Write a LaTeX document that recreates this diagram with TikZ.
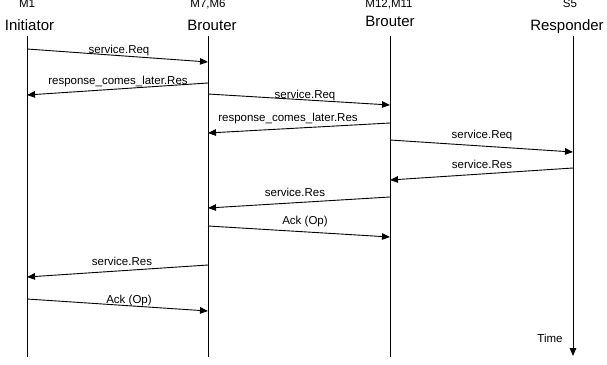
\documentclass[tikz,border=0pt]{standalone}
\usepackage{fontspec}
\setmainfont{Liberation Sans}
\usetikzlibrary{arrows.meta}
\begin{document}
\begin{tikzpicture}[x=1pt,y=-1pt,
  life/.style={line width=0.9pt},
  msg/.style={line width=0.9pt,-{Triangle[length=8pt,width=6.5pt]}},
  lbl/.style={font=\fontsize{11.5}{13}\selectfont,anchor=base,inner sep=0pt},
  head/.style={font=\fontsize{15}{18}\selectfont,anchor=base,inner sep=0pt},
  mlab/.style={font=\fontsize{11.5}{13}\selectfont,anchor=base,inner sep=0pt}]
\useasboundingbox (0,0) rectangle (607,364);
% headers
\node[mlab] (m1) at (27,8) {M1};
\node[mlab] (m2) at (208,8) {M7,M6};
\node[mlab] (m3) at (389,8) {M12,M11};
\node[mlab] (m4) at (570,8) {S5};
\node[head] (hI) at (29.5,30) {Initiator};
\node[head] (hB1) at (212,30) {Brouter};
\node[head] (hB2) at (390,26) {Brouter};
\node[head] (hR) at (567,30) {Responder};
% lifelines
\coordinate (I) at (27,36);
\coordinate (B1) at (208,36);
\coordinate (B2) at (390,36);
\coordinate (R) at (573,36);
\coordinate (Ie) at (27,357);
\coordinate (B1e) at (208,357);
\coordinate (B2e) at (390,357);
\coordinate (Re) at (573,356);
\draw[life] (I) -- (Ie);
\draw[life] (B1) -- (B1e);
\draw[life] (B2) -- (B2e);
\draw[msg] (R) -- (Re);
\node[lbl] (time) at (550,342) {Time};
% messages
\draw[msg] (I |- 0,49) -- (B1 |- 0,62);
\node[lbl] (l1) at (119,53) {service.Req};
\draw[msg] (B1 |- 0,83) -- (I |- 0,95);
\node[lbl] (l2) at (118,84) {response\_comes\_later.Res};
\draw[msg] (B1 |- 0,94) -- (B2 |- 0,105);
\node[lbl] (l3) at (305,98) {service.Req};
\draw[msg] (B2 |- 0,123) -- (B1 |- 0,133);
\node[lbl] (l4) at (288,121) {response\_comes\_later.Res};
\draw[msg] (B2 |- 0,140) -- (R |- 0,152);
\node[lbl] (l5) at (482,138) {service.Req};
\draw[msg] (R |- 0,168) -- (B2 |- 0,180);
\node[lbl] (l6) at (482,168) {service.Res};
\draw[msg] (B2 |- 0,197) -- (B1 |- 0,208);
\node[lbl] (l7) at (295,196) {service.Res};
\draw[msg] (B1 |- 0,226) -- (B2 |- 0,237);
\node[lbl] (l8) at (305,224) {Ack (Op)};
\draw[msg] (B1 |- 0,265) -- (I |- 0,277);
\node[lbl] (l9) at (122,265) {service.Res};
\draw[msg] (I |- 0,299) -- (B1 |- 0,311);
\node[lbl] (l10) at (129,303) {Ack (Op)};
\end{tikzpicture}
\end{document}
